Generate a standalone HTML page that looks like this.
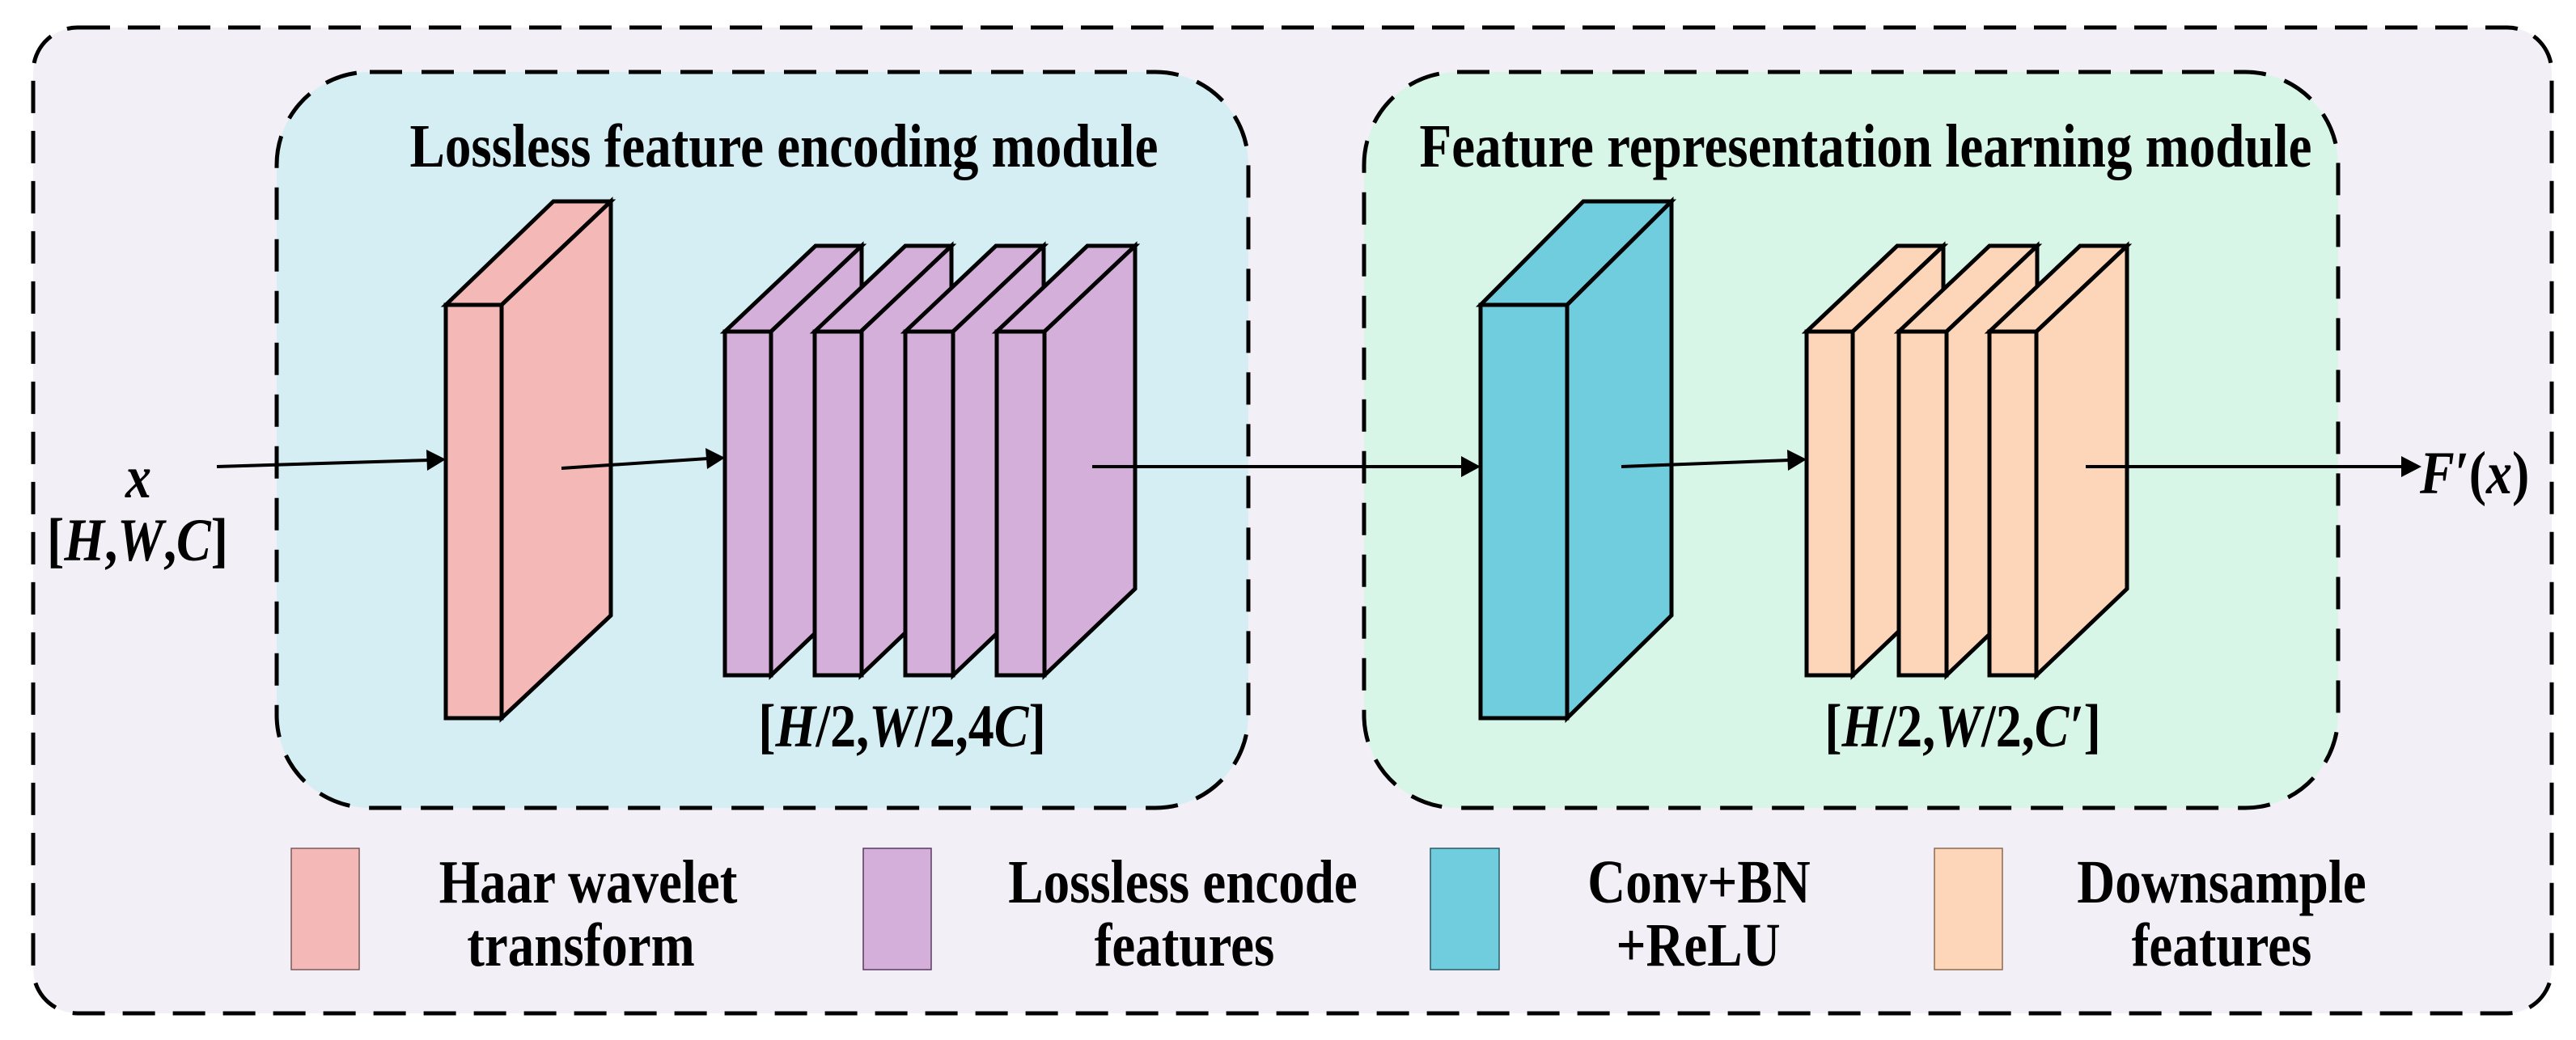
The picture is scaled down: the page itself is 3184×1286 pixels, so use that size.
<!DOCTYPE html>
<html><head><meta charset="utf-8"><style>
html,body{margin:0;padding:0;background:#fff;}
svg{display:block;}
text{font-family:"Liberation Serif",serif;font-weight:bold;fill:#000;}
</style></head><body>
<svg width="3184" height="1286" viewBox="0 0 3184 1286" xmlns="http://www.w3.org/2000/svg">
<!-- outer -->
<rect x="41" y="34" width="3113" height="1219" rx="55" fill="#F3EFF6" stroke="#000" stroke-width="5" stroke-dasharray="40,22"/>
<!-- modules -->
<rect x="342" y="89" width="1201" height="910" rx="115" fill="#D5EEF4" stroke="#000" stroke-width="5" stroke-dasharray="40,24"/>
<rect x="1686" y="89" width="1204" height="910" rx="115" fill="#D8F6E8" stroke="#000" stroke-width="5" stroke-dasharray="40,24"/>
<g transform="translate(969,206) scale(1,1.18)"><text x="0" y="0" font-size="65" text-anchor="middle">Lossless feature encoding module</text></g>
<g transform="translate(2306,206) scale(1,1.18)"><text x="0" y="0" font-size="65" text-anchor="middle">Feature representation learning module</text></g>

<g stroke="#000" stroke-width="5" stroke-linejoin="miter">
<polygon points="551,377 684,249 755,249 620,377" fill="#F4B9B6"/>
<polygon points="620,377 755,249 755,761 620,888" fill="#F4B9B6"/>
<rect x="551" y="377" width="69" height="511" fill="#F4B9B6"/>
<g fill="#D4AFDA">
<polygon points="896,410 1008,304 1065,304 953,410"/><polygon points="953,410 1065,304 1065,728 953,835"/><rect x="896" y="410" width="57" height="425"/>
<polygon points="1007,410 1119,304 1176,304 1064,410"/><polygon points="1064,410 1176,304 1176,728 1064,835"/><rect x="1007" y="410" width="58" height="425"/>
<polygon points="1119,410 1231,304 1290,304 1178,410"/><polygon points="1178,410 1290,304 1290,728 1178,835"/><rect x="1119" y="410" width="59" height="425"/>
<polygon points="1232,410 1344,304 1403,304 1291,410"/><polygon points="1291,410 1403,304 1403,728 1291,835"/><rect x="1232" y="410" width="59" height="425"/>
</g>
<polygon points="1830,377 1957,249 2066,249 1937,377" fill="#70CDDE"/>
<polygon points="1937,377 2066,249 2066,761 1937,888" fill="#70CDDE"/>
<rect x="1830" y="377" width="107" height="511" fill="#70CDDE"/>
<g fill="#FDD6BA">
<polygon points="2233,410 2345,304 2402,304 2290,410"/><polygon points="2290,410 2402,304 2402,728 2290,835"/><rect x="2233" y="410" width="57" height="425"/>
<polygon points="2347,410 2459,304 2518,304 2406,410"/><polygon points="2406,410 2518,304 2518,728 2406,835"/><rect x="2347" y="410" width="59" height="425"/>
<polygon points="2459,410 2571,304 2629,304 2517,410"/><polygon points="2517,410 2629,304 2629,728 2517,835"/><rect x="2459" y="410" width="58" height="425"/>
</g>
</g>

<g stroke="#000" stroke-width="4" fill="none">
<line x1="268" y1="577" x2="530" y2="569"/>
<line x1="694" y1="579" x2="875" y2="567"/>
<line x1="1350" y1="577" x2="1808" y2="577"/>
<line x1="2004" y1="577" x2="2212" y2="569"/>
<line x1="2578" y1="577" x2="2970" y2="577"/>
</g>
<g fill="#000">
<polygon points="551,568 527,556 528,582"/>
<polygon points="896,566 872,554 874,580"/>
<polygon points="1830,577 1806,564 1806,590"/>
<polygon points="2233,568 2209,556 2210,582"/>
<polygon points="2993,577 2968,564 2968,590"/>
</g>

<g transform="translate(171,615) scale(1,1.18)"><text font-size="64" text-anchor="middle" font-style="italic">x</text></g>
<g transform="translate(170,693) scale(1,1.18)"><text font-size="64" text-anchor="middle">[<tspan font-style="italic">H</tspan>,<tspan font-style="italic">W</tspan>,<tspan font-style="italic">C</tspan>]</text></g>
<g transform="translate(2991,610) scale(1,1.18)"><text font-size="64"><tspan font-style="italic">F′</tspan>(<tspan font-style="italic">x</tspan>)</text></g>
<g transform="translate(1115,923) scale(1,1.18)"><text font-size="64" text-anchor="middle">[<tspan font-style="italic">H</tspan>/2,<tspan font-style="italic">W</tspan>/2,4<tspan font-style="italic">C</tspan>]</text></g>
<g transform="translate(2426,923) scale(1,1.18)"><text font-size="64" text-anchor="middle">[<tspan font-style="italic">H</tspan>/2,<tspan font-style="italic">W</tspan>/2,<tspan font-style="italic">C′</tspan>]</text></g>

<rect x="360" y="1049" width="84" height="150" fill="#F4B9B6" stroke="#7a5a5a" stroke-width="1.5"/>
<rect x="1067" y="1049" width="84" height="150" fill="#D4AFDA" stroke="#5a3a60" stroke-width="1.5"/>
<rect x="1768" y="1049" width="85" height="150" fill="#70CDDE" stroke="#2a5a66" stroke-width="1.5"/>
<rect x="2391" y="1049" width="84" height="150" fill="#FDD6BA" stroke="#8a6a50" stroke-width="1.5"/>
<g font-size="65" text-anchor="middle">
<g transform="translate(727,1116) scale(1,1.18)"><text>Haar wavelet</text></g>
<g transform="translate(718,1194) scale(1,1.18)"><text>transform</text></g>
<g transform="translate(1462,1116) scale(1,1.18)"><text>Lossless encode</text></g>
<g transform="translate(1464,1194) scale(1,1.18)"><text>features</text></g>
<g transform="translate(2100,1116) scale(1,1.18)"><text>Conv+BN</text></g>
<g transform="translate(2099,1194) scale(1,1.18)"><text>+ReLU</text></g>
<g transform="translate(2746,1116) scale(1,1.18)"><text>Downsample</text></g>
<g transform="translate(2746,1194) scale(1,1.18)"><text>features</text></g>
</g>
</svg>
</body></html>
